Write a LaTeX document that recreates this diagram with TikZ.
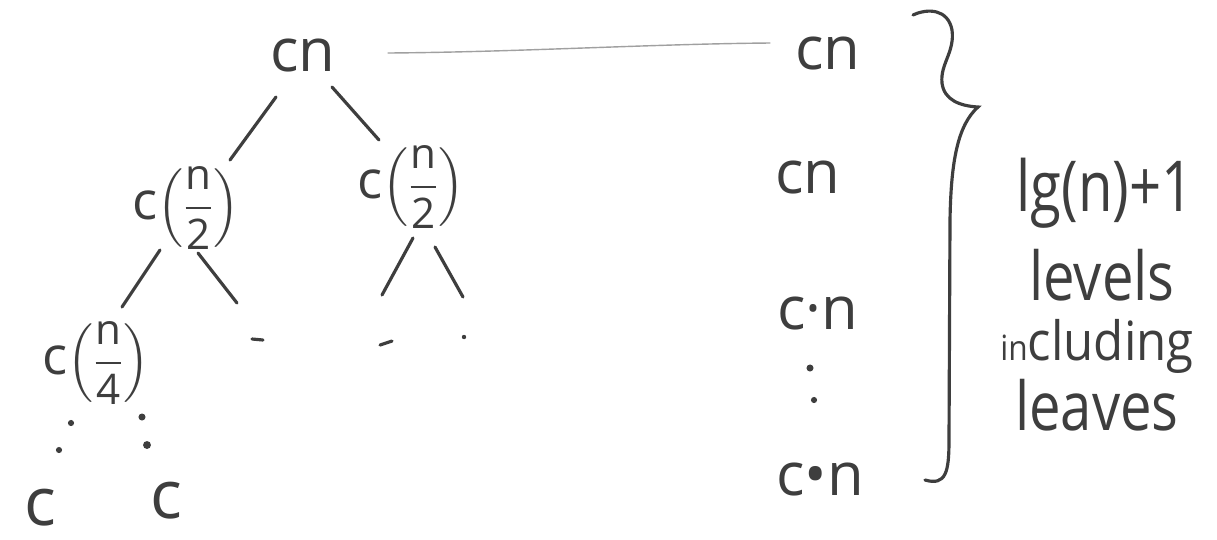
\documentclass[tikz,border=0pt]{standalone}
\usepackage{amsmath}
\usepackage{fontspec}
\setmainfont{Open Sans}
\usetikzlibrary{calc}
\definecolor{ink}{RGB}{62,62,62}
\definecolor{faint}{RGB}{160,160,160}
\newcommand{\myfraclabel}[1]{{\fontsize{30}{30}\selectfont c}$\left(\displaystyle\frac{\mathrm{n}}{\mathrm{#1}}\right)$}
\begin{document}
\begin{tikzpicture}[x=0.02cm,y=-0.02cm,
  lbl/.style={text=ink, inner sep=0pt, font=\fontsize{34}{34}\selectfont},
  leaf/.style={text=ink, inner sep=0pt, text depth=0pt, font=\fontsize{38}{38}\selectfont},
  mth/.style={text=ink, inner sep=0pt, font=\fontsize{24}{24}\selectfont},
  note/.style={text=ink, inner sep=0pt, font=\fontsize{32}{32}\selectfont},
  edge/.style={draw=ink, line width=1.8pt, line cap=round},
  guide/.style={draw=faint, line width=0.8pt, line cap=round},
  dot/.style={circle, fill=ink, inner sep=0pt, minimum size=#1},
  dot/.default=4pt]
\useasboundingbox (0,0) rectangle (1217,539);
\fill[white] (0,0) rectangle (1217,539);

% tree nodes
\node[lbl] (root) at (303,56) {cn};
\node[mth] (L) at (186,208) {\myfraclabel{2}};
\node[mth] (R) at (411,187) {\myfraclabel{2}};
\node[mth] (LL) at (96,363) {\myfraclabel{4}};
\coordinate (d1) at (257,339);
\coordinate (d2) at (386,343);
\node[dot=2.5pt] (d3) at (464,337) {};
\node[leaf, anchor=base] (c1) at (40,525) {c};
\node[leaf, anchor=base] (c2) at (166,518) {c};

% tree edges
\draw[edge] ($(root)+(-27,41)$) -- ($(L)+(44,-48)$);
\draw[edge] ($(root)+(29,31)$) -- ($(R)+(-32,-47)$);
\draw[edge] ($(L)+(-26,42)$) -- ($(LL)+(26,-56)$);
\draw[edge] ($(L)+(12,45)$) -- ($(d1)+(-20,-36)$);
\draw[edge] ($(R)+(2,51)$) -- ($(d2)+(-4,-48)$);
\draw[edge] ($(R)+(24,60)$) -- ($(d3)+(-1,-40)$);
\draw[edge] ($(d1)+(-5,0)$) -- ($(d1)+(6,1)$);
\draw[edge] ($(d2)+(-6,2)$) -- ($(d2)+(6,-2)$);

% dotted continuation to leaves
\node[dot=3.5pt] (p1) at (71,423) {};
\node[dot=3.5pt] (p2) at (59,450) {};
\node[dot=4pt] (p3) at (142,417) {};
\node[dot=4.5pt] (p4) at (147,445) {};

% right column
\node[lbl] (r1) at (828,54) {cn};
\node[lbl] (r2) at (808,178) {cn};
\node[lbl] (r3) at (818,314) {c·n};
\node[dot=4pt] (v1) at (810,368) {};
\node[dot=3.5pt] (v2) at (814,400) {};
\node[lbl] (r5) at (820,480) {c•n};

% guide line
\draw[guide] ($(root)+(85,-3)$) .. controls (520,52) and (650,44) .. ($(r1)+(-58,-11)$);

% brace
\draw[edge] (913,15) .. controls (928,8) and (948,9) .. (952,30)
  .. controls (955,52) and (940,64) .. (942,83)
  .. controls (944,100) and (960,106) .. (978,107)
  .. controls (958,125) and (951,160) .. (950,220)
  -- (949,440)
  .. controls (949,472) and (946,486) .. (925,480);

% notes
\node[note] (t1) at (1105,193) {\scalebox{1}[1.25]{lg(n)+1}};
\node[note] (t2) at (1102,275) {\scalebox{1}[1.2]{levels}};
\node[note] (t3) at (1097,346) {\scalebox{1}[1.1]{{\fontsize{18}{18}\selectfont in}{\fontsize{28}{28}\selectfont cluding}}};
\node[note] (t4) at (1097,405) {\scalebox{1}[1.2]{leaves}};
\end{tikzpicture}
\end{document}
